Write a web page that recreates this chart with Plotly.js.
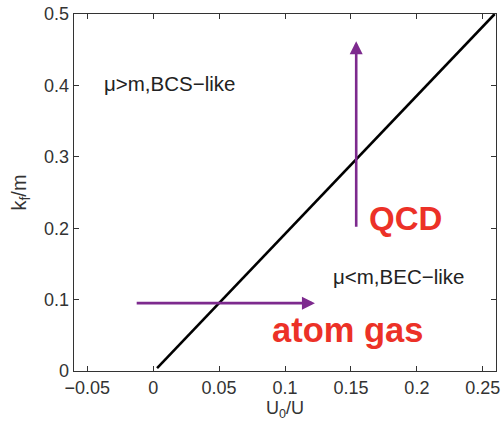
<!DOCTYPE html>
<html>
<head>
<meta charset="utf-8">
<script src="https://cdn.plot.ly/plotly-3.0.1.min.js"></script>
<style>html,body{margin:0;padding:0;background:#fff;}</style>
</head>
<body>
<div id="chart" style="width:503px;height:424px;"></div>
<script>
// Boundary curve k_f/m vs U0/U
const boundaryX = [0.003, 0.05, 0.10, 0.15, 0.20, 0.259];
const boundaryY = [0.004, 0.095, 0.192, 0.289, 0.386, 0.5];

// Arrows: [tail, head]
const qcdArrowX = [0.154, 0.154];
const qcdArrowY = [0.2, 0.462];
const atomArrowX = [-0.0136, 0.1227];
const atomArrowY = [0.095, 0.095];

// Tick labels
const xTickVals = [-0.05, 0, 0.05, 0.1, 0.15, 0.2, 0.25];
const xTickText = ["\u22120.05", "0", "0.05", "0.1", "0.15", "0.2", "0.25"];
const yTickVals = [0, 0.1, 0.2, 0.3, 0.4, 0.5];
const yTickText = ["0", "0.1", "0.2", "0.3", "0.4", "0.5"];

// Region labels
const regionLabels = ["\u03bc>m,BCS\u2212like", "\u03bc<m,BEC\u2212like"];
const regionX = [-0.0385, 0.1345];
const regionY = [0.402, 0.133];
const bigLabels = ["QCD", "atom gas"];
const bigX = [0.162, 0.089];
const bigY = [0.213, 0.057];
const bigSizes = [33, 34.5];

const purple = "#7d2a8e";
const red = "#ec3127";
const font = "Liberation Sans, Arial, Helvetica, sans-serif";

const traces = [{
  x: boundaryX, y: boundaryY, mode: "lines", type: "scatter",
  line: {color: "#000", width: 2.6}, hoverinfo: "skip", showlegend: false
}];

const annotations = [];
regionLabels.forEach((t, i) => annotations.push({
  x: regionX[i], y: regionY[i], xref: "x", yref: "y", text: t, showarrow: false,
  xanchor: "left", yanchor: "middle", font: {family: font, size: 20.5, color: "#222"}
}));
bigLabels.forEach((t, i) => annotations.push({
  x: bigX[i], y: bigY[i], xref: "x", yref: "y", text: "<b>" + t + "</b>", showarrow: false,
  xanchor: "left", yanchor: "middle", font: {family: font, size: bigSizes[i], color: red}
}));
[[qcdArrowX, qcdArrowY], [atomArrowX, atomArrowY]].forEach(([ax, ay]) => annotations.push({
  x: ax[1], y: ay[1], ax: ax[0], ay: ay[0], xref: "x", yref: "y", axref: "x", ayref: "y",
  text: "", showarrow: true, arrowhead: 2, arrowsize: 1, arrowwidth: 2.6, arrowcolor: purple,
  standoff: 0, startstandoff: 0
}));

const axisCommon = {
  showline: true, mirror: "ticks", ticks: "inside", ticklen: 5, tickwidth: 1,
  tickcolor: "#333", linecolor: "#333", linewidth: 1.3, showgrid: false, zeroline: false,
  tickfont: {family: font, size: 18, color: "#333"}
};

const layout = {
  width: 503, height: 424,
  margin: {l: 74, r: 7, t: 14, b: 53},
  paper_bgcolor: "#fff", plot_bgcolor: "#fff",
  xaxis: Object.assign({}, axisCommon, {
    range: [-0.06, 0.26], tickvals: xTickVals, ticktext: xTickText,
    title: {text: "U<sub>0</sub>/U", font: {family: font, size: 18, color: "#333"}, standoff: 2}
  }),
  yaxis: Object.assign({}, axisCommon, {
    range: [0, 0.5], tickvals: yTickVals, ticktext: yTickText,
    title: {text: "k<sub>f</sub>/m", font: {family: font, size: 20, color: "#333"}, standoff: 12}
  }),
  annotations: annotations,
  showlegend: false
};

Plotly.newPlot("chart", traces, layout, {staticPlot: true, displayModeBar: false});
</script>
</body>
</html>
